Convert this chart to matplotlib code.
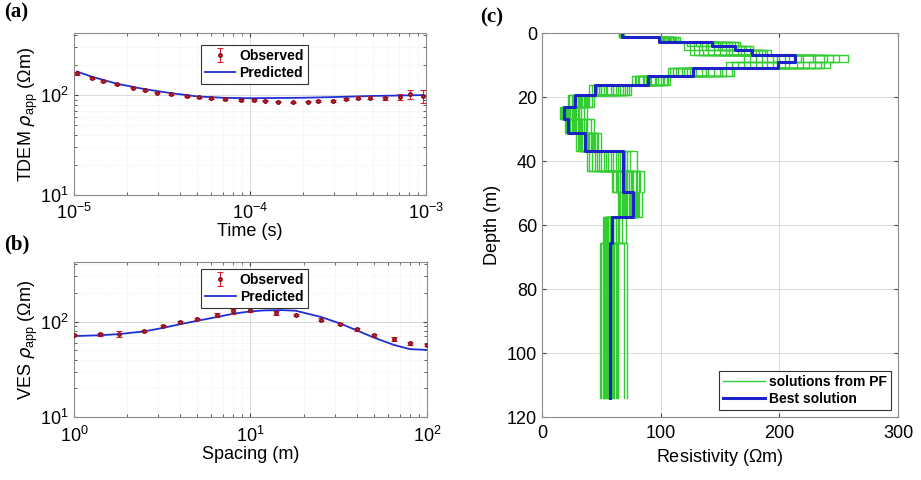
import matplotlib
matplotlib.use("Agg")
import matplotlib.pyplot as plt
import numpy as np

plt.rcParams['font.family'] = ['Liberation Sans', 'DejaVu Sans']
plt.rcParams['mathtext.default'] = 'regular'

# ---------------- (a) TDEM data ----------------
tdem_time = [1.04e-5, 1.26e-5, 1.47e-5, 1.75e-5, 2.16e-5, 2.53e-5, 2.95e-5, 3.54e-5,
             4.37e-5, 5.15e-5, 5.98e-5, 7.21e-5, 8.85e-5, 1.05e-4, 1.22e-4, 1.45e-4,
             1.76e-4, 2.14e-4, 2.44e-4, 2.95e-4, 3.54e-4, 4.12e-4, 4.80e-4, 5.85e-4,
             7.11e-4, 8.18e-4, 9.66e-4]
tdem_obs = [165, 149, 139, 128, 119, 113, 106, 102, 97, 95, 93, 91, 89, 89, 88, 86,
            84.5, 86, 87, 87, 91, 94, 94, 93, 96, 102, 98]
tdem_err = [0.03, 0.03, 0.02, 0.02, 0.02, 0.02, 0.02, 0.02, 0.02, 0.02, 0.02, 0.02,
            0.03, 0.03, 0.02, 0.02, 0.02, 0.02, 0.02, 0.03, 0.03, 0.03, 0.03, 0.04,
            0.06, 0.10, 0.15]
tdem_pred_time = [1.04e-5, 1.26e-5, 1.75e-5, 2.5e-5, 3.5e-5, 5e-5, 7e-5, 1e-4,
                  2e-4, 3e-4, 5e-4, 7e-4, 9.7e-4]
tdem_pred = [172, 153, 130, 115, 105, 97, 94, 93, 94, 95.5, 98, 99, 100]

# ---------------- (b) VES data ----------------
ves_spacing = [1, 1.4, 1.8, 2.5, 3.2, 4, 5, 6.5, 8, 10, 14, 18, 25, 32, 40, 50, 65, 80, 100]
ves_obs = [72, 73.5, 75, 80, 90, 99, 107, 117, 129, 132, 124, 117, 105, 94, 83, 72,
           66, 59, 57]
ves_err = [0.03, 0.04, 0.07, 0.03, 0.02, 0.03, 0.03, 0.04, 0.06, 0.05, 0.05, 0.03,
           0.04, 0.02, 0.04, 0.04, 0.04, 0.04, 0.03]
ves_pred_spacing = [1, 1.4, 1.8, 2.5, 3.2, 4, 5, 6.5, 8, 10, 12, 15, 18, 25, 32, 40,
                    50, 65, 80, 100]
ves_pred = [70.5, 72, 74, 79, 86, 94, 102, 112, 121, 128, 131, 132, 130, 112, 96, 81,
            68, 57, 51.5, 50.5]

# ---------------- (c) resistivity models ----------------
layer_top = [0, 1.1, 2.7, 4.0, 5.3, 6.9, 9.0, 11.0, 13.4, 16.25, 19.4, 23.0, 26.7,
             31.3, 36.8, 43.0, 49.6, 57.4, 65.6]
layer_bottom = layer_top[1:] + [114]
best_rho = [67, 99, 143, 163, 177, 213, 199, 127, 89, 44.7, 27.8, 18.5, 22, 36, 68.5,
            68.5, 77, 58.7, 57.3]
# one row per layer, one column per PF solution
pf_rho = [
    [65, 66, 67, 68, 66, 67, 69, 65, 67, 68, 66, 67, 66, 68, 67, 65, 69, 66, 68, 67],
    [99, 102, 105, 108, 111, 116, 100, 104, 113, 107, 110, 101, 103, 106, 109, 112, 115, 100, 105, 110],
    [120, 130, 140, 150, 160, 167, 135, 125, 155, 145, 165, 138, 122, 128, 133, 143, 148, 152, 158, 163],
    [120, 135, 150, 160, 170, 178, 145, 128, 165, 155, 175, 140, 125, 132, 138, 148, 152, 158, 168, 172],
    [125, 140, 155, 170, 185, 193, 150, 132, 180, 165, 190, 160, 128, 136, 145, 158, 168, 175, 183, 188],
    [170, 190, 205, 220, 240, 258, 200, 180, 250, 212, 230, 195, 175, 185, 198, 208, 218, 228, 238, 245],
    [155, 170, 185, 200, 215, 243, 180, 165, 225, 195, 235, 205, 160, 175, 190, 198, 208, 220, 230, 238],
    [106, 115, 125, 135, 150, 162, 120, 110, 140, 130, 155, 118, 108, 113, 122, 128, 138, 145, 152, 160],
    [76, 82, 88, 95, 102, 108, 85, 79, 98, 92, 105, 90, 78, 81, 86, 91, 96, 100, 103, 106],
    [40, 48, 55, 62, 70, 75, 45, 52, 66, 58, 72, 50, 42, 46, 50, 54, 60, 64, 68, 73],
    [22, 26, 30, 34, 38, 44, 28, 32, 40, 25, 36, 42, 23, 27, 29, 31, 33, 35, 37, 39],
    [15, 19, 23, 27, 31, 38, 21, 25, 35, 17, 29, 33, 16, 18, 20, 22, 24, 26, 28, 30],
    [19, 24, 28, 33, 38, 44, 26, 30, 41, 22, 35, 31, 20, 23, 25, 27, 29, 32, 34, 37],
    [29, 33, 37, 41, 45, 50, 35, 39, 47, 31, 43, 38, 30, 32, 34, 36, 40, 42, 44, 46],
    [38, 45, 52, 60, 68, 80, 48, 56, 74, 42, 64, 70, 40, 46, 50, 54, 58, 62, 66, 72],
    [59, 64, 70, 75, 80, 86, 66, 72, 83, 62, 77, 68, 60, 63, 67, 71, 73, 76, 79, 82],
    [64, 68, 72, 76, 80, 84, 70, 74, 82, 66, 78, 73, 65, 67, 69, 71, 75, 77, 79, 81],
    [51, 54, 57, 60, 64, 71, 55, 59, 67, 53, 62, 58, 52, 53, 55, 56, 58, 60, 62, 65],
    [49, 51, 53, 55, 58, 60, 62, 64, 56, 52, 69, 72, 50, 52, 54, 56, 57, 59, 61, 63],
]


def step_profile(rho):
    xs, ys = [], []
    for r, top, bot in zip(rho, layer_top, layer_bottom):
        xs += [r, r]
        ys += [top, bot]
    return xs, ys


def style_axes(ax):
    ax.tick_params(direction='in', which='both', top=True, right=True,
                   labelsize=13, color='#444444', length=3)
    ax.tick_params(which='minor', length=2)
    ax.tick_params(axis='x', pad=6)
    for s in ax.spines.values():
        s.set_color('#8c8c8c')
        s.set_linewidth(0.8)
    ax.grid(True, which='major', color='#d4d4d4', lw=0.6)


fig = plt.figure(figsize=(9.21, 4.80), dpi=100)
ax_a = fig.add_axes([0.0803, 0.594, 0.382, 0.3375])
ax_b = fig.add_axes([0.0803, 0.131, 0.3833, 0.323])
ax_c = fig.add_axes([0.5885, 0.131, 0.3865, 0.80])

red = '#e0202a'
blue = '#1f2fd8'

for ax, x, y, e, xp, yp in [(ax_a, tdem_time, tdem_obs, tdem_err, tdem_pred_time, tdem_pred),
                            (ax_b, ves_spacing, ves_obs, ves_err, ves_pred_spacing, ves_pred)]:
    y = np.array(y)
    h_obs = ax.errorbar(x, y, yerr=y * np.array(e), fmt='.', color=red, ms=5, elinewidth=0.8,
                        capsize=2, capthick=0.8, mec='#7a1020', zorder=3)
    h_pred, = ax.plot(xp, yp, color=blue, lw=1.3, zorder=2)
    ax.set_xscale('log')
    ax.set_yscale('log')
    ax.set_ylim(10, 420)
    style_axes(ax)
    ax.grid(True, which='minor', color='#e6e6e6', lw=0.5, ls=':')
    loc = (0.34, 0.97) if ax is ax_a else (0.34, 1.0)
    leg = ax.legend([h_obs, h_pred], ['Observed', 'Predicted'], loc='upper left',
                    bbox_to_anchor=loc, prop={'weight': 'bold', 'size': 10},
                    fancybox=False, framealpha=1, edgecolor='#333333', handlelength=2.2,
                    borderpad=0.3, labelspacing=0.2, handletextpad=0.3)
    leg.get_frame().set_linewidth(0.8)

ax_a.set_xlim(1e-5, 1e-3)
ax_b.set_xlim(1, 100)
ax_a.set_xlabel('Time (s)', fontsize=13, labelpad=0)
ax_b.set_xlabel('Spacing (m)', fontsize=13, labelpad=0)
ax_a.set_ylabel(r'TDEM $\mathit{\rho}_{app}$ ($\Omega$m)', fontsize=13, labelpad=0)
ax_b.set_ylabel(r'VES $\mathit{\rho}_{app}$ ($\Omega$m)', fontsize=13, labelpad=0)

# (c)
for k in range(len(pf_rho[0])):
    xs, ys = step_profile([row[k] for row in pf_rho])
    ax_c.plot(xs, ys, color='#33cc33', lw=1.0,
              label='solutions from PF' if k == 0 else None)
xs, ys = step_profile(best_rho)
ax_c.plot(xs, ys, color='#1a22c8', lw=2.2, label='Best solution')
ax_c.set_xlim(0, 300)
ax_c.set_ylim(120, 0)
ax_c.set_xticks([0, 100, 200, 300])
ax_c.set_yticks([0, 20, 40, 60, 80, 100, 120])
style_axes(ax_c)
ax_c.set_xlabel('Resistivity ($\\Omega$m)', fontsize=13, labelpad=3)
ax_c.set_ylabel('Depth (m)', fontsize=13, labelpad=4)
leg = ax_c.legend(loc='lower right', prop={'weight': 'bold', 'size': 10}, fancybox=False,
                  framealpha=1, edgecolor='#333333', handlelength=3,
                  borderpad=0.3, labelspacing=0.2, handletextpad=0.3)
leg.get_frame().set_linewidth(0.8)

# panel letters
fig.text(0.005, 0.995, '(a)', fontsize=15, fontweight='bold', family='Liberation Serif', va='top')
fig.text(0.005, 0.512, '(b)', fontsize=15, fontweight='bold', family='Liberation Serif', va='top')
fig.text(0.521, 0.985, '(c)', fontsize=15, fontweight='bold', family='Liberation Serif', va='top')

fig.savefig('out.png', dpi=100)
